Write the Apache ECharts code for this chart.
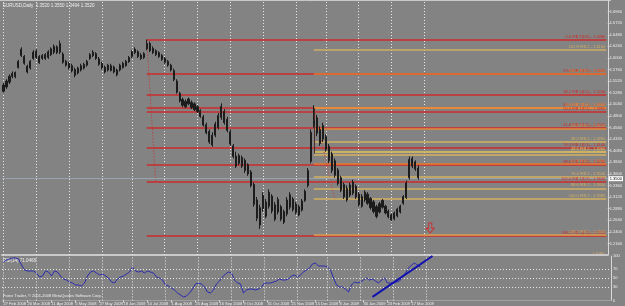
<!DOCTYPE html>
<html><head><meta charset="utf-8">
<script src="https://cdn.jsdelivr.net/npm/echarts@6/dist/echarts.min.js"></script>
<style>html,body{margin:0;padding:0;background:#838383}#c{width:625px;height:306px}</style>
</head><body><div id="c"></div>
<script>
const dateLabels = ['27 Feb 2008','20 Mar 2008','11 Apr 2008','5 May 2008','27 May 2008','18 Jun 2008','10 Jul 2008','1 Aug 2008','25 Aug 2008','16 Sep 2008','9 Oct 2008','31 Oct 2008','21 Nov 2008','15 Dec 2008','8 Jan 2009','30 Jan 2009','23 Feb 2009','17 Mar 2009'];
const monthIdx = [0, 11, 22, 33, 43, 54, 65, 76, 87, 98, 108, 119, 130, 141];

const opens = [1.531,1.540,1.550,1.568,1.561,1.580,1.618,1.603,1.571,1.579,1.599,1.614,1.590,1.605,1.599,1.601,1.607,1.624,1.611,1.630,
1.608,1.593,1.589,1.584,1.564,1.569,1.575,1.579,1.585,1.599,1.612,1.609,1.598,1.589,1.571,1.585,1.584,1.581,1.565,1.575,
1.580,1.584,1.592,1.603,1.618,1.613,1.599,1.601,1.619,1.630,1.620,1.615,1.611,1.605,1.599,1.593,1.585,1.574,1.552,1.527,
1.514,1.499,1.515,1.508,1.505,1.499,1.491,1.478,1.462,1.448,1.420,1.440,1.456,1.500,1.489,1.473,1.447,1.418,1.376,1.398,
1.394,1.388,1.379,1.364,1.338,1.306,1.254,1.316,1.272,1.322,1.314,1.266,1.307,1.292,1.260,1.277,1.317,1.308,1.298,1.275,
1.285,1.305,1.336,1.386,1.462,1.476,1.423,1.460,1.437,1.417,1.401,1.387,1.368,1.352,1.338,1.306,1.316,1.343,1.334,1.318,
1.293,1.322,1.318,1.309,1.302,1.272,1.281,1.305,1.293,1.283,1.265,1.267,1.273,1.281,1.299,1.311,1.352,1.392,1.385,1.372];
const closes = [1.544,1.552,1.562,1.562,1.570,1.593,1.605,1.589,1.583,1.593,1.612,1.601,1.603,1.599,1.607,1.613,1.619,1.612,1.623,1.612,
1.591,1.585,1.579,1.573,1.576,1.579,1.584,1.587,1.593,1.607,1.605,1.599,1.587,1.579,1.581,1.575,1.574,1.571,1.575,1.585,
1.589,1.593,1.601,1.613,1.611,1.603,1.606,1.609,1.630,1.615,1.611,1.607,1.603,1.597,1.591,1.585,1.575,1.555,1.529,1.511,
1.502,1.510,1.505,1.497,1.493,1.489,1.479,1.461,1.445,1.426,1.440,1.463,1.481,1.477,1.466,1.450,1.422,1.396,1.397,1.382,
1.376,1.367,1.360,1.336,1.297,1.268,1.290,1.288,1.302,1.293,1.283,1.296,1.281,1.266,1.282,1.306,1.291,1.286,1.280,1.292,
1.304,1.324,1.367,1.446,1.470,1.444,1.452,1.432,1.410,1.387,1.367,1.357,1.340,1.326,1.312,1.330,1.337,1.320,1.312,1.296,
1.313,1.306,1.299,1.290,1.282,1.292,1.298,1.291,1.279,1.271,1.275,1.279,1.287,1.293,1.313,1.341,1.390,1.376,1.370,1.352];
const lows = [1.528,1.536,1.546,1.558,1.558,1.578,1.602,1.586,1.568,1.576,1.596,1.598,1.588,1.596,1.596,1.598,1.604,1.608,1.608,1.608,
1.588,1.582,1.576,1.570,1.560,1.566,1.572,1.576,1.582,1.596,1.602,1.596,1.584,1.576,1.568,1.572,1.572,1.568,1.562,1.572,
1.578,1.582,1.590,1.600,1.608,1.600,1.596,1.598,1.616,1.612,1.608,1.604,1.600,1.594,1.588,1.582,1.572,1.552,1.526,1.508,
1.498,1.496,1.502,1.494,1.490,1.486,1.476,1.458,1.442,1.422,1.416,1.436,1.452,1.472,1.462,1.446,1.418,1.392,1.372,1.378,
1.372,1.362,1.356,1.332,1.292,1.262,1.246,1.282,1.268,1.288,1.278,1.262,1.276,1.262,1.256,1.272,1.286,1.282,1.276,1.272,
1.282,1.302,1.332,1.382,1.456,1.438,1.418,1.426,1.406,1.382,1.362,1.352,1.336,1.322,1.308,1.302,1.312,1.316,1.308,1.292,
1.290,1.302,1.296,1.286,1.278,1.268,1.278,1.288,1.276,1.268,1.262,1.264,1.270,1.278,1.296,1.308,1.348,1.372,1.366,1.348];
const highs = [1.548,1.556,1.566,1.572,1.572,1.596,1.622,1.606,1.586,1.596,1.616,1.618,1.606,1.608,1.610,1.616,1.622,1.628,1.626,1.636,
1.612,1.596,1.592,1.588,1.580,1.582,1.588,1.590,1.596,1.610,1.616,1.612,1.602,1.592,1.584,1.588,1.588,1.584,1.578,1.588,
1.592,1.596,1.604,1.616,1.622,1.616,1.610,1.612,1.638,1.634,1.624,1.618,1.614,1.608,1.602,1.596,1.588,1.578,1.556,1.530,
1.518,1.514,1.518,1.512,1.508,1.502,1.494,1.482,1.466,1.452,1.446,1.468,1.486,1.506,1.494,1.478,1.452,1.422,1.406,1.402,
1.398,1.392,1.382,1.368,1.342,1.312,1.296,1.322,1.308,1.328,1.318,1.302,1.312,1.296,1.286,1.312,1.322,1.312,1.302,1.296,
1.308,1.328,1.372,1.452,1.502,1.482,1.458,1.466,1.442,1.422,1.406,1.392,1.372,1.356,1.342,1.336,1.342,1.348,1.338,1.322,
1.318,1.326,1.322,1.312,1.306,1.296,1.302,1.308,1.296,1.286,1.278,1.282,1.290,1.296,1.316,1.346,1.396,1.396,1.388,1.378];

const rsi = [86.5,91.0,93.3,95.5,95.5,93.3,79.8,68.5,66.3,66.3,66.3,61.8,52.8,55.1,66.3,64.0,55.1,66.3,64.0,55.1,
48.3,46.1,41.6,39.3,34.8,34.8,32.6,39.3,55.1,64.0,66.3,61.8,57.3,59.6,55.1,50.6,41.6,39.3,48.3,52.8,
55.1,59.6,64.0,75.3,66.3,64.0,66.3,61.8,66.3,64.0,61.8,52.8,50.6,46.1,34.8,32.6,28.1,23.6,16.9,12.4,
7.9,10.1,16.9,25.8,37.1,39.3,37.1,30.3,19.1,16.9,23.6,37.1,43.8,52.8,59.6,64.0,61.8,46.1,39.3,37.1,
16.9,23.6,25.8,25.8,23.6,25.8,30.3,39.3,39.3,39.3,41.6,43.8,48.3,46.1,46.1,48.3,55.1,57.3,52.8,57.3,
64.0,68.5,73.0,82.0,84.3,77.5,77.5,77.5,75.3,68.5,50.6,34.8,30.3,30.3,25.8,19.1,34.8,41.6,39.3,41.6,
46.1,50.6,46.1,48.3,43.8,39.3,46.1,50.6,39.3,39.3,39.3,41.6,43.8,52.8,61.8,73.0,79.8,84.3,79.8,75.3];
const rsiLevels = [30, 50, 70];
const rsiAxisLabels = [0, 30, 50, 70, 100];
const rsiTrend = [[123, 8], [143, 100]];

const fib1Start = 48;
const fib1Prices = [1.6380, 1.5680, 1.5240, 1.4960, 1.4880, 1.4560, 1.4140, 1.3780, 1.3440, 1.2320];
const fib1Names = ['0.0 FIB 1(D0)', '23.6 FIB 1(D1)', '38.2 FIB 1(D1)', '48.6 FIB 1(D1)', '50.0 FIB 1(D1)', '61.8 FIB 1(D1)', '76.4 FIB 1(D1)', '88.6 FIB 1(D1)', '100.0 FIB 1(D1)', '138.2 FIB 1(D1)'];
const fib2Start = 104;
const fib2Prices = [1.6160, 1.5680, 1.4960, 1.4540, 1.4260, 1.4060, 1.4000, 1.3800, 1.3540, 1.3300, 1.3080, 1.2340];
const fib2Names = ['161.8 FIB 2', '138.2 FIB 2', '0.0 FIB 2(D0)', '23.6 FIB 2', '38.2 FIB 2', '48.6 FIB 2', '50.0 FIB 2', '61.8 FIB 2', '76.4 FIB 2', '88.6 FIB 2', '100.0 FIB 2', '138.2 FIB 2'];
const fib2Colors = ['#cfae62','#e8782e','#f4a23a','#e08a3a','#d4b060','#e2c45a','#d4b060','#e8782e','#d4b060','#d4b060','#d4b060','#dca050'];
const fibBase = [[[48, 1.638], [51, 1.344]], [[104, 1.496], [111, 1.308]]];
const fib2Stem = [[104, 1.496], [104, 1.402]];
const arrowPoint = [[143, 1.248]];

const N = 203, lastIdx = N - 1;
const cats = Array.from({length: N}, (_, i) => String(i));
const ohlc = opens.map((o, i) => [o, closes[i], lows[i], highs[i]]);
const lastClose = closes[closes.length - 1];
const F = 'Liberation Sans';
const RED = '#cc2b2b';
const TXT = '#efefef';

const chart = echarts.init(document.getElementById('c'), null, {renderer: 'canvas', width: 625, height: 306});

function fibLines(start, prices, names, colors) {
  return prices.map((p, i) => [
    {coord: [start, p], lineStyle: {color: colors[i]},
     label: {show: true, position: 'insideEndTop', distance: 1, formatter: names[i] + ' - ' + p.toFixed(4), color: colors[i], fontSize: 4, fontFamily: F}},
    {coord: [lastIdx, p]}
  ]);
}
const vGrid = {silent: true, symbol: ['none', 'none'], label: {show: false},
  lineStyle: {color: '#e8e8e8', type: [1, 2], width: 1}, data: monthIdx.map(i => ({xAxis: i}))};
const labelAt = (i) => i % 8 === 0 && i / 8 < dateLabels.length;

chart.setOption({
  backgroundColor: '#838383',
  animation: false,
  grid: [{left: 2, width: 609, top: -9, height: 264}, {left: 2, width: 609, top: 256, height: 44.5}],
  xAxis: [
    {type: 'category', gridIndex: 0, data: cats, boundaryGap: true,
     axisLine: {show: true, lineStyle: {color: '#c9c9c9', width: 2}}, axisTick: {show: false}, axisLabel: {show: false}, splitLine: {show: false}},
    {type: 'category', gridIndex: 1, data: cats, boundaryGap: true,
     axisLine: {show: true, lineStyle: {color: '#a0a0a0', width: 1}},
     axisTick: {show: true, alignWithLabel: true, interval: labelAt, length: 2, lineStyle: {color: '#e0e0e0'}},
     axisLabel: {interval: labelAt, hideOverlap: false, formatter: (v, i) => dateLabels[i / 8] || '',
       fontSize: 4, color: TXT, align: 'left', margin: 1, fontFamily: F},
     splitLine: {show: false}}
  ],
  yAxis: [
    {type: 'value', gridIndex: 0, position: 'right', min: 1.192, max: 1.720, interval: 0.024,
     axisLine: {show: true, lineStyle: {color: '#d8d8d8'}}, axisTick: {show: true, length: 2, lineStyle: {color: '#d8d8d8'}},
     axisLabel: {fontSize: 4, color: TXT, margin: 2, formatter: v => v.toFixed(4), showMinLabel: false, showMaxLabel: false, fontFamily: F},
     splitLine: {show: false}},
    {type: 'value', gridIndex: 1, position: 'right', min: 0, max: 100, interval: 10,
     axisLine: {show: true, lineStyle: {color: '#d8d8d8'}}, axisTick: {show: false},
     axisLabel: {fontSize: 4, color: TXT, margin: 2, fontFamily: F, formatter: v => rsiAxisLabels.includes(v) ? String(v) : ''},
     splitLine: {show: false}}
  ],
  series: [
    {type: 'line', xAxisIndex: 0, yAxisIndex: 0, data: [], z: 1, markLine: vGrid},
    {type: 'line', xAxisIndex: 0, yAxisIndex: 0, data: [], z: 2,
     markLine: {silent: true, symbol: ['none', 'none'], lineStyle: {width: 1.5, type: 'solid'},
       data: fibLines(fib1Start, fib1Prices, fib1Names, fib1Prices.map(() => RED))}},
    {type: 'line', xAxisIndex: 0, yAxisIndex: 0, data: [], z: 3,
     markLine: {silent: true, symbol: ['none', 'none'], lineStyle: {width: 1.5, type: 'solid'},
       data: fibLines(fib2Start, fib2Prices, fib2Names, fib2Colors)}},
    {type: 'line', xAxisIndex: 0, yAxisIndex: 0, data: [], z: 3,
     markLine: {silent: true, symbol: ['none', 'none'], label: {show: false},
       data: [
         [{coord: fibBase[0][0], lineStyle: {color: RED, type: [1, 2], width: 1}}, {coord: fibBase[0][1]}],
         [{coord: fibBase[1][0], lineStyle: {color: '#c84030', type: [1, 2], width: 1}}, {coord: fibBase[1][1]}],
         [{coord: fib2Stem[0], lineStyle: {color: '#4a2a2a', type: 'solid', width: 1}}, {coord: fib2Stem[1]}]
       ]}},
    {type: 'candlestick', xAxisIndex: 0, yAxisIndex: 0, data: ohlc, barWidth: 1.6, z: 5,
     itemStyle: {color: '#1c1c1c', color0: '#1c1c1c', borderColor: '#1c1c1c', borderColor0: '#1c1c1c', borderWidth: 1},
     markLine: {silent: true, symbol: ['none', 'none'], data: [{yAxis: lastClose}],
       lineStyle: {color: '#9aa4b0', width: 1, type: 'solid'},
       label: {position: 'end', formatter: p => p.value.toFixed(4), backgroundColor: '#ffffff', color: '#000', fontSize: 4, padding: [1, 1, 0, 1], distance: 1, fontFamily: F}}},
    {type: 'scatter', xAxisIndex: 0, yAxisIndex: 0, data: arrowPoint, z: 6,
     symbol: 'path://M3,0 L7,0 L7,6 L10,6 L5,11 L0,6 L3,6 Z', symbolSize: [8, 10],
     itemStyle: {color: 'rgba(0,0,0,0)', borderColor: '#e02020', borderWidth: 1}},
    {type: 'line', xAxisIndex: 1, yAxisIndex: 1, data: [], z: 1,
     markLine: Object.assign({}, vGrid)},
    {type: 'line', xAxisIndex: 1, yAxisIndex: 1, data: [], z: 2,
     markLine: {silent: true, symbol: ['none', 'none'], label: {show: false},
       lineStyle: {color: '#e8e8e8', type: [1, 2], width: 1}, data: rsiLevels.map(v => ({yAxis: v}))}},
    {type: 'line', xAxisIndex: 1, yAxisIndex: 1, data: rsi, z: 4, symbol: 'none',
     lineStyle: {color: '#2a2ab0', width: 1},
     markLine: {silent: true, symbol: ['none', 'none'], label: {show: false},
       data: [[{coord: rsiTrend[0], lineStyle: {color: '#1010b0', width: 2, type: 'solid'}}, {coord: rsiTrend[1]}]]}}
  ],
  graphic: [
    {type: 'line', shape: {x1: 0, y1: 0.5, x2: 611, y2: 0.5}, style: {stroke: '#c8c8c8', lineWidth: 1}, silent: true},
    {type: 'text', x: 3, y: 3, style: {text: 'EURUSD,Daily  1.3520 1.3550 1.3494 1.3520', fill: TXT, fontSize: 4.5, fontFamily: F}},
    {type: 'text', x: 3, y: 258, style: {text: 'RSI(14) 71.0468', fill: TXT, fontSize: 4.5, fontFamily: F}},
    {type: 'text', x: 3, y: 294, style: {text: 'Forex Trader, \u00a9 2001-2008 MetaQuotes Software Corp.', fill: TXT, fontSize: 4, fontFamily: F}},
    {type: 'text', x: 592, y: 252, style: {text: '1.2080', fill: '#d8b060', fontSize: 4, fontFamily: F}}
  ]
});
</script></body></html>
